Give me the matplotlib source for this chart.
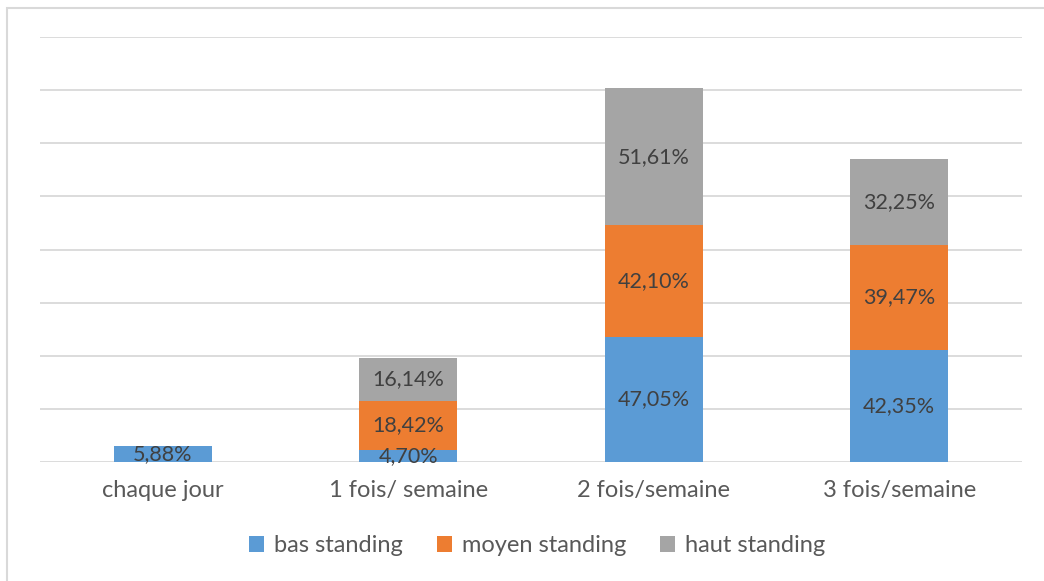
import numpy as np
import matplotlib.pyplot as plt
from matplotlib.patches import Rectangle

categories = ['chaque jour', '1 fois/ semaine', '2 fois/semaine', '3 fois/semaine']
bas = [5.88, 4.70, 47.05, 42.35]
moyen = [0, 18.42, 42.10, 39.47]
haut = [0, 16.14, 51.61, 32.25]
series = ['bas standing', 'moyen standing', 'haut standing']
colors = ['#5B9BD5', '#ED7D31', '#A5A5A5']

plt.rcParams['font.family'] = ['Lato', 'DejaVu Sans']

fig = plt.figure(figsize=(10.44, 5.81), dpi=100)
ax = fig.add_axes([40 / 1044, 1 - 462 / 581, 982 / 1044, 425 / 581])

x = np.arange(len(categories))
bottom = np.zeros(len(categories))
for name, vals, c in zip(series, [bas, moyen, haut], colors):
    vals = np.array(vals)
    bars = ax.bar(x, vals, width=0.4, bottom=bottom, color=c, label=name, zorder=3)
    labels = [f'{v:.2f}%'.replace('.', ',') if v > 0 else '' for v in vals]
    ax.bar_label(bars, labels=labels, label_type='center', fontsize=15.5,
                 color='#404040', zorder=4)
    bottom += vals

ax.set_xlim(-0.5, len(categories) - 0.5)
ax.set_ylim(0, 160)
ax.set_yticks(np.arange(0, 161, 20))
ax.set_yticklabels([])
ax.grid(axis='y', color='#D9D9D9', linewidth=1.3, zorder=0)
ax.tick_params(length=0, pad=13)
ax.set_xticks(x)
ax.set_xticklabels(categories, fontsize=17, color='#595959')
for s in ax.spines.values():
    s.set_visible(False)

fig.legend(loc='center', bbox_to_anchor=(537 / 1044, 1 - 546 / 581), ncol=3, frameon=False,
           fontsize=17, labelcolor='#595959', handlelength=0.65, handleheight=0.65,
           handletextpad=0.4, columnspacing=1.45)

fig.patches.append(Rectangle((7 / 1044, -0.1), 1.2, 1 - 8 / 581 + 0.1,
                             transform=fig.transFigure, fill=False,
                             edgecolor='#D9D9D9', linewidth=1.5))

fig.savefig('out.png', dpi=100)
